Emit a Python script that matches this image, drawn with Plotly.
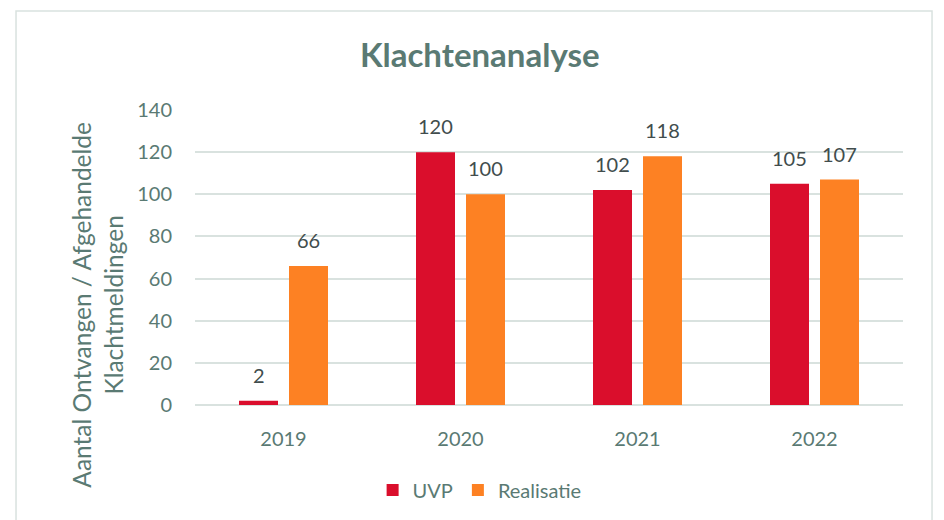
import plotly.graph_objects as go

years = ["2019", "2020", "2021", "2022"]
uvp = [2, 120, 102, 105]
realisatie = [66, 100, 118, 107]
y_ticks = [0, 20, 40, 60, 80, 100, 120, 140]

RED = "#da0e2c"
ORANGE = "#fd8123"
GRAYGREEN = "#5a7a73"
LABEL = "#414d4d"
FONT = "Lato"

fig = go.Figure()
fig.add_trace(go.Bar(name="UVP", x=years, y=uvp, marker_color=RED, marker_line_width=0))
fig.add_trace(go.Bar(name="Realisatie", x=years, y=realisatie, marker_color=ORANGE, marker_line_width=0))

annotations = []
for xs, vals in ((-25, uvp), (25, realisatie)):
    for i, v in enumerate(vals):
        annotations.append(dict(x=i, y=v, text=str(v), showarrow=False, xshift=xs,
                                yshift=26, font=dict(family=FONT, size=20, color=LABEL)))

annotations.append(dict(xref="paper", yref="paper", x=-0.137, y=0.34, xanchor="center",
                        yanchor="middle", textangle=-90,
                        text="Aantal Ontvangen / Afgehandelde<br>Klachtmeldingen", showarrow=False,
                        font=dict(family=FONT, size=24.5, color=GRAYGREEN)))

fig.update_layout(
    width=936, height=512,
    paper_bgcolor="white", plot_bgcolor="white",
    margin=dict(l=187, r=41, t=102, b=115, autoexpand=False),
    barmode="group", bargap=0.435, bargroupgap=0.22,
    title=dict(text="Klachtenanalyse", x=0.504, xanchor="center", y=0.908, yanchor="middle",
               font=dict(family=FONT, size=33, color=GRAYGREEN, weight=700)),
    legend=dict(orientation="h", x=0.402, xanchor="center", y=-0.288, yanchor="middle",
                font=dict(family=FONT, size=20, color=GRAYGREEN), itemwidth=30,
                bgcolor="rgba(0,0,0,0)"),
    annotations=annotations,
    shapes=[dict(type="rect", xref="paper", yref="paper", x0=-0.2528, x1=1.041, y0=-0.42, y1=1.3356,
                 line=dict(color="#d9e2df", width=1.5), layer="below")],
    showlegend=True,
)
fig.update_xaxes(type="category", range=[-0.5, len(years) - 0.5], showgrid=False, showline=False,
                 zeroline=False, ticks="", automargin=False,
                 tickfont=dict(family=FONT, size=20, color=GRAYGREEN), ticklabelstandoff=20)
fig.update_yaxes(range=[0, 140], tickvals=y_ticks, showgrid=True, gridcolor="#d9e2df", gridwidth=1.5,
                 automargin=False,
                 zeroline=True, zerolinecolor="#d9e2df", zerolinewidth=1.5, showline=False, ticks="",
                 tickfont=dict(family=FONT, size=20, color=GRAYGREEN), ticklabelstandoff=22)

fig.write_html("out.html")
